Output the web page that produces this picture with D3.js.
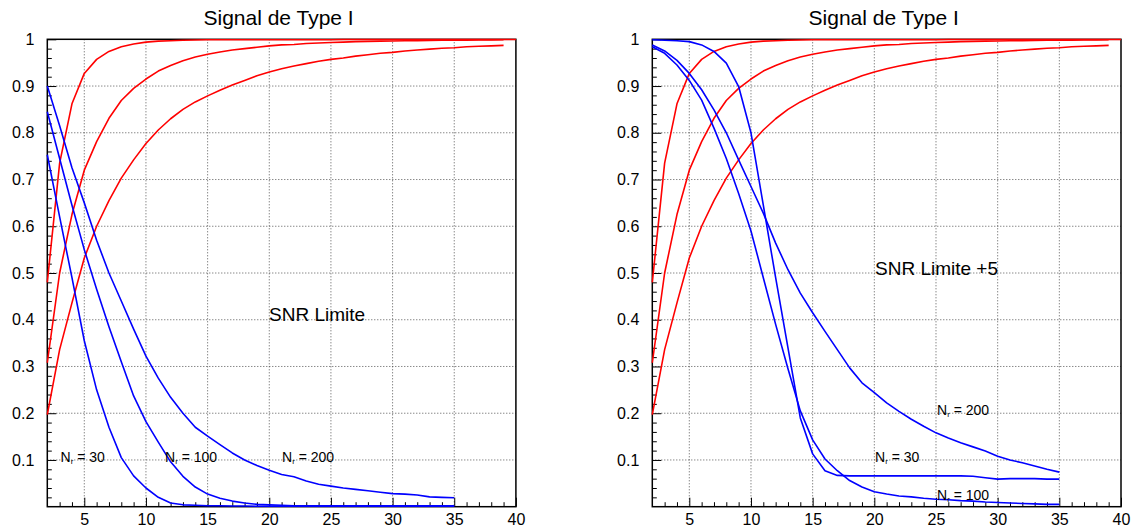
<!DOCTYPE html>
<html><head><meta charset="utf-8">
<script src="https://cdn.jsdelivr.net/npm/d3@7"></script>
<style>
body{margin:0;background:#fff}
svg{display:block}
text{font-family:"Liberation Sans",Arial,sans-serif;fill:#000}
</style>
</head><body>
<svg id="chart" width="1136" height="530"></svg>
<script>
// ---------------- DATA ----------------
const titleText = "Signal de Type I";
const xMajorTicks = [5,10,15,20,25,30,35,40];
const xTickLabels = ["5","10","15","20","25","30","35","40"];
const yMajorTicks = [0.1,0.2,0.3,0.4,0.5,0.6,0.7,0.8,0.9,1];
const yTickLabels = ["0.1","0.2","0.3","0.4","0.5","0.6","0.7","0.8","0.9","1"];

// SNR values (x) for the detection (red) curves
const snrRedA = [2,3,4,5,6,7,8,9,10,11,12,13,14,15,16,17,18,19,20,21,22,23,24,25,26,27,28,29,30,31,32,33,34,35,36,37,38,39,40];
const snrRedBC = [2,3,4,5,6,7,8,9,10,11,12,13,14,15,16,17,18,19,20,21,22,23,24,25,26,27,28,29,30,31,32,33,34,35,36,37,38,39];
// SNR values (x) for the false alarm (blue) curves
const snrBlue = [2,3,4,5,6,7,8,9,10,11,12,13,14,15,16,17,18,19,20,21,22,23,24,25,26,27,28,29,30,31,32,33,34,35];

// Red curves (identical on both panels)
const redA = [0.48,0.735,0.862,0.927,0.957,0.974,0.984,0.990,0.994,0.996,0.997,0.998,0.9985,0.999,0.999,0.999,0.999,0.999,0.999,0.999,0.999,0.999,0.999,0.999,0.9995,0.9995,0.9995,0.9995,0.9995,0.9995,0.9995,0.9995,0.9995,0.9995,0.9995,0.9995,0.9995,0.9995,0.9995];
const redB = [0.308,0.50,0.625,0.72,0.781,0.831,0.869,0.895,0.915,0.932,0.944,0.954,0.962,0.968,0.973,0.977,0.980,0.983,0.986,0.988,0.989,0.991,0.992,0.993,0.994,0.995,0.9955,0.996,0.9965,0.997,0.9972,0.9975,0.998,0.998,0.9983,0.9985,0.9988,0.999];
const redC = [0.197,0.336,0.436,0.532,0.60,0.655,0.703,0.742,0.777,0.806,0.830,0.850,0.866,0.879,0.891,0.902,0.912,0.922,0.930,0.937,0.943,0.948,0.953,0.957,0.960,0.964,0.967,0.970,0.972,0.975,0.977,0.979,0.981,0.982,0.984,0.985,0.986,0.987];

// Left panel: "SNR Limite"
const blue30L  = [0.753,0.62,0.49,0.355,0.25,0.17,0.105,0.066,0.04,0.02,0.008,0.004,0.003,0.002,0.002,0.0015,0.0015,0.001,0.001,0.001,0.001,0.001,0.001,0.001,0.001,0.001,0.001,0.001,0.001,0.001,0.001,0.001,0.001,0.001];
const blue100L = [0.845,0.745,0.645,0.55,0.465,0.385,0.31,0.237,0.182,0.138,0.096,0.065,0.042,0.027,0.018,0.012,0.008,0.005,0.004,0.003,0.002,0.002,0.002,0.002,0.002,0.002,0.002,0.002,0.002,0.002,0.002,0.002,0.002,0.002];
const blue200L = [0.90,0.815,0.725,0.65,0.57,0.50,0.44,0.38,0.322,0.275,0.234,0.20,0.17,0.151,0.133,0.115,0.10,0.088,0.078,0.069,0.064,0.055,0.048,0.044,0.040,0.037,0.034,0.031,0.028,0.027,0.025,0.021,0.020,0.019];

// Right panel: "SNR Limite +5"
const blue30R  = [0.999,0.998,0.997,0.995,0.988,0.974,0.949,0.899,0.80,0.645,0.49,0.34,0.19,0.113,0.077,0.067,0.066,0.066,0.066,0.066,0.066,0.066,0.066,0.066,0.066,0.066,0.065,0.062,0.059,0.060,0.060,0.060,0.059,0.059];
const blue100R = [0.984,0.97,0.945,0.912,0.87,0.81,0.745,0.67,0.59,0.49,0.39,0.295,0.205,0.143,0.102,0.077,0.056,0.042,0.032,0.027,0.023,0.021,0.018,0.016,0.015,0.013,0.012,0.010,0.009,0.008,0.007,0.006,0.005,0.005];
const blue200R = [0.988,0.975,0.955,0.927,0.892,0.849,0.80,0.742,0.685,0.628,0.564,0.507,0.457,0.415,0.375,0.336,0.297,0.265,0.244,0.222,0.204,0.187,0.172,0.158,0.147,0.137,0.128,0.119,0.108,0.100,0.094,0.087,0.080,0.074];

const noteLeft = "SNR Limite";
const noteRight = "SNR Limite +5";
const nLabels = ["30","100","200"];

// ---------------- LAYOUT ----------------
const svg = d3.select("#chart");
const TOP = 39.3, BOTTOM = 506.7;
const zip = (xs, ys) => xs.map((x,i)=>[x, ys[i]]);

const panels = [
  { left:47.3, right:515.9, note:noteLeft, noteX:269, noteY:321,
    blues:[blue30L, blue100L, blue200L],
    labels:[{t:nLabels[0],x:60.5,y:462},{t:nLabels[1],x:165,y:462},{t:nLabels[2],x:282,y:462}] },
  { left:652.3, right:1121, note:noteRight, noteX:875, noteY:274.5,
    blues:[blue30R, blue100R, blue200R],
    labels:[{t:nLabels[2],x:937,y:415},{t:nLabels[0],x:875,y:462},{t:nLabels[1],x:937,y:500}] }
];

panels.forEach(p => {
  const x = d3.scaleLinear().domain([2,40]).range([p.left, p.right]);
  const y = d3.scaleLinear().domain([0,1]).range([BOTTOM, TOP]);
  const g = svg.append("g");

  // title
  g.append("text").attr("x", (p.left+p.right)/2 - 3).attr("y", 25)
    .attr("text-anchor","middle").attr("font-size", 21).text(titleText);

  // grid
  const grid = g.append("g").attr("stroke","#444").attr("stroke-width",0.9)
    .attr("stroke-dasharray","1,2").attr("fill","none");
  xMajorTicks.filter(v=>v<40).forEach(v=>{
    grid.append("line").attr("x1",x(v)).attr("x2",x(v)).attr("y1",TOP).attr("y2",BOTTOM);
  });
  yMajorTicks.filter(v=>v<1).forEach(v=>{
    grid.append("line").attr("x1",p.left).attr("x2",p.right).attr("y1",y(v)).attr("y2",y(v));
  });

  // minor ticks
  const xMinor = d3.range(3,40,1).filter(v=>v%5!==0);
  const yMinor = d3.range(1,50).map(k=>k*0.02).filter((v,i)=>(i+1)%5!==0);
  const axMinX = g.append("g").attr("transform",`translate(0,${BOTTOM})`)
    .call(d3.axisBottom(x).tickValues(xMinor).tickSize(-4.5).tickFormat(""));
  const axMinY = g.append("g").attr("transform",`translate(${p.left},0)`)
    .call(d3.axisLeft(y).tickValues(yMinor).tickSize(-4.5).tickFormat(""));

  // major ticks + labels
  const axX = g.append("g").attr("transform",`translate(0,${BOTTOM})`)
    .call(d3.axisBottom(x).tickValues(xMajorTicks).tickSize(-9).tickPadding(6.5)
      .tickFormat((d,i)=>xTickLabels[i]));
  const axY = g.append("g").attr("transform",`translate(${p.left},0)`)
    .call(d3.axisLeft(y).tickValues(yMajorTicks).tickSize(-9).tickPadding(13)
      .tickFormat((d,i)=>yTickLabels[i]));
  [axMinX,axMinY,axX,axY].forEach(a=>{
    a.select(".domain").remove();
    a.selectAll("line").attr("stroke","#000").attr("stroke-width",1);
    a.selectAll("text").attr("font-size",16).attr("font-family","Liberation Sans, Arial, sans-serif");
  });

  // frame
  g.append("rect").attr("x",p.left).attr("y",TOP).attr("width",p.right-p.left)
    .attr("height",BOTTOM-TOP).attr("fill","none").attr("stroke","#000").attr("stroke-width",1.5);

  // curves
  const line = d3.line().x(d=>x(d[0])).y(d=>y(d[1]));
  [[snrRedA,redA],[snrRedBC,redB],[snrRedBC,redC]].forEach(([xs,ys])=>{
    g.append("path").attr("d",line(zip(xs,ys))).attr("fill","none")
      .attr("stroke","#ff0000").attr("stroke-width",1.6).attr("stroke-linejoin","round");
  });
  p.blues.forEach(ys=>{
    g.append("path").attr("d",line(zip(snrBlue,ys))).attr("fill","none")
      .attr("stroke","#0000ff").attr("stroke-width",1.6).attr("stroke-linejoin","round");
  });

  // annotations
  g.append("text").attr("x",p.noteX).attr("y",p.noteY).attr("font-size",19).text(p.note);
  p.labels.forEach(l=>{
    const t = g.append("text").attr("x",l.x).attr("y",l.y).attr("font-size",14);
    t.append("tspan").text("N");
    t.append("tspan").attr("font-size",8).attr("dy",2).text("r");
    t.append("tspan").attr("dy",-2).text(" = " + l.t);
  });
});
</script>
</body></html>
